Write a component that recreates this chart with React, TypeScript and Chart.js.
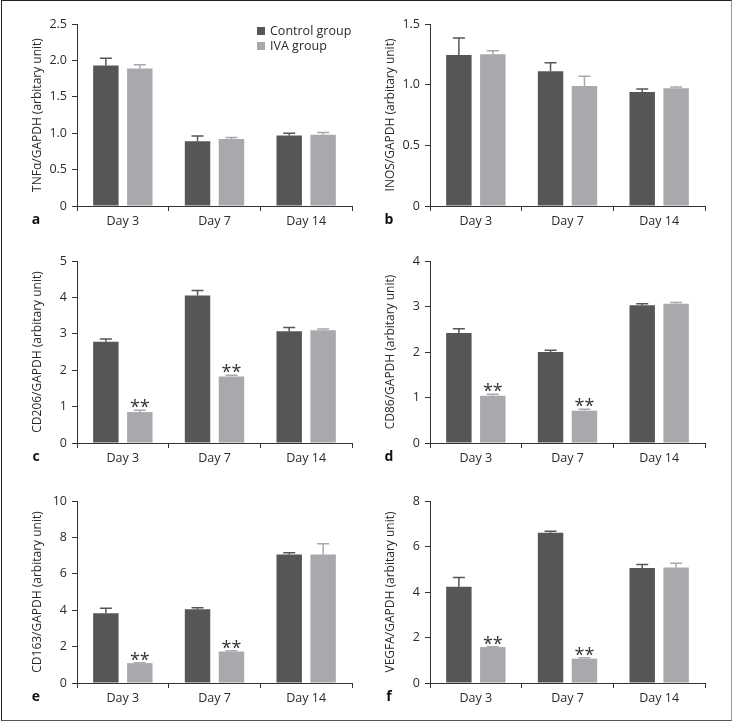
import React, { useEffect, useRef } from "react";
import { Chart, registerables } from "chart.js";

Chart.register(...registerables);

// ---------- data ----------
const categories = ["Day 3", "Day 7", "Day 14"];
const seriesNames = ["Control group", "IVA group"];

const tnfControl = [1.93, 0.89, 0.97];
const tnfControlErr = [0.1, 0.07, 0.03];
const tnfIva = [1.89, 0.92, 0.98];
const tnfIvaErr = [0.05, 0.02, 0.03];

const inosControl = [1.245, 1.11, 0.94];
const inosControlErr = [0.14, 0.07, 0.025];
const inosIva = [1.25, 0.99, 0.97];
const inosIvaErr = [0.03, 0.08, 0.01];

const cd206Control = [2.78, 4.05, 3.07];
const cd206ControlErr = [0.08, 0.14, 0.1];
const cd206Iva = [0.85, 1.83, 3.1];
const cd206IvaErr = [0.05, 0.03, 0.03];

const cd86Control = [2.42, 2.0, 3.03];
const cd86ControlErr = [0.09, 0.04, 0.03];
const cd86Iva = [1.04, 0.71, 3.06];
const cd86IvaErr = [0.03, 0.03, 0.03];

const cd163Control = [3.83, 4.05, 7.06];
const cd163ControlErr = [0.28, 0.09, 0.09];
const cd163Iva = [1.09, 1.73, 7.06];
const cd163IvaErr = [0.02, 0.04, 0.59];

const vegfaControl = [4.23, 6.6, 5.05];
const vegfaControlErr = [0.41, 0.07, 0.16];
const vegfaIva = [1.58, 1.07, 5.08];
const vegfaIvaErr = [0.01, 0.04, 0.18];

const noStars = [false, false, false];
const sigStars = [true, true, false];

const panels = [
  { letter: "a", title: "TNFα/GAPDH (arbitary unit)", control: tnfControl, controlErr: tnfControlErr, iva: tnfIva, ivaErr: tnfIvaErr, max: 2.5, step: 0.5, decimals: 1, stars: noStars, legend: true },
  { letter: "b", title: "INOS/GAPDH (arbitary unit)", control: inosControl, controlErr: inosControlErr, iva: inosIva, ivaErr: inosIvaErr, max: 1.5, step: 0.5, decimals: 1, stars: noStars, legend: false },
  { letter: "c", title: "CD206/GAPDH (arbitary unit)", control: cd206Control, controlErr: cd206ControlErr, iva: cd206Iva, ivaErr: cd206IvaErr, max: 5, step: 1, decimals: 0, stars: sigStars, legend: false },
  { letter: "d", title: "CD86/GAPDH (arbitary unit)", control: cd86Control, controlErr: cd86ControlErr, iva: cd86Iva, ivaErr: cd86IvaErr, max: 4, step: 1, decimals: 0, stars: sigStars, legend: false },
  { letter: "e", title: "CD163/GAPDH (arbitary unit)", control: cd163Control, controlErr: cd163ControlErr, iva: cd163Iva, ivaErr: cd163IvaErr, max: 10, step: 2, decimals: 0, stars: sigStars, legend: false },
  { letter: "f", title: "VEGFA/GAPDH (arbitary unit)", control: vegfaControl, controlErr: vegfaControlErr, iva: vegfaIva, ivaErr: vegfaIvaErr, max: 8, step: 2, decimals: 0, stars: sigStars, legend: false },
];

// ---------- layout / style ----------
const panelOrigins = [
  [0, 0],
  [353, 0],
  [0, 237],
  [353, 237],
  [0, 477],
  [353, 477],
];
const CANVAS_W = 360;
const CANVAS_H = 240;
const AXIS_W = 77;
const PAD_TOP = 24;
const X_AXIS_H = 34;
const PAD_RIGHT = 8;

const COLORS = ["#565658", "#a8a9ac"];
const TEXT = "#2a2a2a";
const FONT = "'Open Sans', 'DejaVu Sans', sans-serif";

const overlayPlugin = {
  id: "overlay",
  afterDatasetsDraw(chart: any, _args: any, opts: any) {
    const ctx = chart.ctx;
    const yScale = chart.scales.y;
    const errs = opts.errs as number[][];
    ctx.save();
    chart.data.datasets.forEach((ds: any, d: number) => {
      const meta = chart.getDatasetMeta(d);
      meta.data.forEach((el: any, i: number) => {
        const v = ds.data[i];
        const top = yScale.getPixelForValue(v + errs[d][i]);
        ctx.strokeStyle = COLORS[d];
        ctx.lineWidth = 1.5;
        ctx.beginPath();
        ctx.moveTo(el.x, el.y);
        ctx.lineTo(el.x, top);
        ctx.moveTo(el.x - 6, top);
        ctx.lineTo(el.x + 6, top);
        ctx.stroke();
        if (d === 1 && opts.stars[i]) {
          ctx.fillStyle = "#333";
          ctx.font = `18px ${FONT}`;
          ctx.textAlign = "center";
          ctx.textBaseline = "alphabetic";
          ctx.fillText("**", el.x, top + 3);
        }
      });
    });
    ctx.restore();
  },
  afterDraw(chart: any, _args: any, opts: any) {
    const ctx = chart.ctx;
    const area = chart.chartArea;
    ctx.save();
    // y title
    ctx.translate(area.left - 39, (area.top + area.bottom) / 2);
    ctx.rotate(-Math.PI / 2);
    ctx.fillStyle = TEXT;
    ctx.font = `12px ${FONT}`;
    ctx.textAlign = "center";
    ctx.textBaseline = "middle";
    ctx.fillText(opts.title, 0, 0);
    ctx.restore();
    // panel letter
    ctx.save();
    ctx.fillStyle = "#111";
    ctx.font = `bold 14px ${FONT}`;
    ctx.textAlign = "center";
    ctx.textBaseline = "middle";
    ctx.fillText(opts.letter, area.left - 41, area.bottom + 14);
    ctx.restore();
    // legend
    if (opts.legend) {
      ctx.save();
      ctx.font = `12.5px ${FONT}`;
      ctx.textBaseline = "middle";
      ctx.textAlign = "left";
      seriesNames.forEach((name, k) => {
        const cy = area.top + 7 + k * 15;
        ctx.fillStyle = COLORS[k];
        ctx.fillRect(area.left + 180, cy - 4, 8, 8);
        ctx.fillStyle = TEXT;
        ctx.fillText(name, area.left + 193, cy);
      });
      ctx.restore();
    }
  },
};

function Panel({ index }: { index: number }) {
  const ref = useRef<HTMLCanvasElement>(null);
  const p = panels[index];
  const [ox, oy] = panelOrigins[index];
  useEffect(() => {
    if (!ref.current) return;
    const chart = new Chart(ref.current, {
      type: "bar",
      data: {
        labels: categories,
        datasets: [
          { label: seriesNames[0], data: p.control, backgroundColor: COLORS[0], categoryPercentage: 0.74, barPercentage: 0.75 },
          { label: seriesNames[1], data: p.iva, backgroundColor: COLORS[1], categoryPercentage: 0.74, barPercentage: 0.75 },
        ],
      },
      options: {
        responsive: false,
        animation: false,
        devicePixelRatio: 1,
        layout: { padding: { top: PAD_TOP, right: PAD_RIGHT, left: 0, bottom: 0 } },
        plugins: {
          legend: { display: false },
          tooltip: { enabled: false },
          overlay: {
            errs: [p.controlErr, p.ivaErr],
            stars: p.stars,
            title: p.title,
            letter: p.letter,
            legend: p.legend,
          },
        } as any,
        scales: {
          x: {
            type: "category",
            offset: true,
            afterFit: (s: any) => { s.height = X_AXIS_H; },
            grid: { offset: true, drawOnChartArea: false, tickLength: 5, color: "#333", lineWidth: 1 },
            border: { color: "#333", width: 1 },
            ticks: { color: TEXT, font: { family: FONT, size: 12.5 }, padding: 3, maxRotation: 0 },
          },
          y: {
            min: 0,
            max: p.max,
            afterFit: (s: any) => { s.width = AXIS_W; },
            grid: { drawOnChartArea: false, tickLength: 5, color: "#333", lineWidth: 1 },
            border: { color: "#333", width: 1 },
            ticks: {
              stepSize: p.step,
              color: TEXT,
              font: { family: FONT, size: 12.5 },
              padding: 5,
              callback: (v: any) => (Number(v) === 0 ? "0" : Number(v).toFixed(p.decimals)),
            },
          },
        },
      },
      plugins: [overlayPlugin as any],
    });
    return () => chart.destroy();
  }, []);
  return (
    <canvas
      ref={ref}
      width={CANVAS_W}
      height={CANVAS_H}
      style={{ position: "absolute", left: ox, top: oy, width: CANVAS_W, height: CANVAS_H, display: "block" }}
    />
  );
}

export default function App() {
  return (
    <div style={{ position: "absolute", left: 0, top: 0, width: 735, height: 724, background: "#fff", overflow: "hidden" }}>
      <div
        style={{
          position: "absolute",
          left: 1,
          top: 0,
          width: 729,
          height: 719,
          borderTop: "1px solid #222",
          borderLeft: "1px solid #222",
          borderBottom: "1px solid #555",
          borderRight: "1px solid #999",
        }}
      />
      {panels.map((_, i) => (
        <Panel key={i} index={i} />
      ))}
    </div>
  );
}
